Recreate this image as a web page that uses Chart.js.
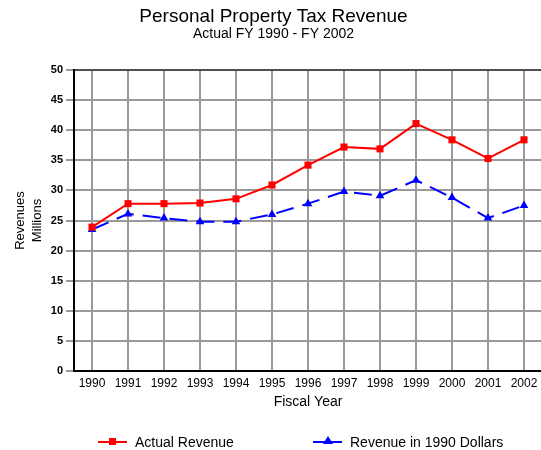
<!DOCTYPE html>
<html>
<head>
<meta charset="utf-8">
<script src="https://cdn.jsdelivr.net/npm/chart.js@4/dist/chart.umd.min.js"></script>
<style>
    body { margin: 0; overflow: hidden; background: #fff; width: 541px; height: 450px; position: relative; }
    #wrap { position: absolute; left: 0; top: 0; width: 547px; height: 450px; }
    .legend { position: absolute; top: 434px; font: 14px "Liberation Sans", Arial, sans-serif; color: #000; height: 16px; line-height: 16px; }
    .legend .line { position: absolute; top: 7px; width: 29px; height: 2px; }
    .legend .sq { position: absolute; top: 4px; left: 11px; width: 7px; height: 7px; background: #f00; }
    .legend .tri { position: absolute; top: 2px; left: 10px; width: 0; height: 0;
        border-left: 5px solid transparent; border-right: 5px solid transparent; border-bottom: 8px solid #00f; }
    .legend .txt { position: absolute; left: 37px; white-space: nowrap; }
</style>
</head>
<body>
<div id="wrap"><canvas id="taxChart" width="547" height="450"></canvas></div>

<div class="legend" style="left:98px"><div class="line" style="background:#f00"></div><div class="sq"></div><span class="txt">Actual Revenue</span></div>
<div class="legend" style="left:313px"><div class="line" style="background:#00f"></div><div class="tri"></div><span class="txt">Revenue in 1990 Dollars</span></div>

<script>
// Fiscal years and revenue in millions
const years = ['1990', '1991', '1992', '1993', '1994', '1995', '1996', '1997', '1998', '1999', '2000', '2001', '2002'];
const actualRevenue = [23.9, 27.8, 27.8, 27.9, 28.6, 30.9, 34.2, 37.2, 36.9, 41.1, 38.4, 35.3, 38.4];
const revenue1990Dollars = [23.5, 26.1, 25.4, 24.8, 24.8, 26.0, 27.8, 29.8, 29.1, 31.7, 28.8, 25.4, 27.5];
const yTicks = [0, 5, 10, 15, 20, 25, 30, 35, 40, 45, 50];

const gridGray = '#9a9a9a';

const ctx = document.getElementById('taxChart');
const taxChart = new Chart(ctx, {
    type: 'line',
    data: {
        labels: years,
        datasets: [{
            label: 'Actual Revenue',
            data: actualRevenue,
            borderColor: '#ff0000',
            backgroundColor: '#ff0000',
            borderWidth: 2,
            pointStyle: 'rect',
            pointRadius: 5,
            pointBorderWidth: 0,
            tension: 0
        }, {
            label: 'Revenue in 1990 Dollars',
            data: revenue1990Dollars,
            borderColor: '#0000ff',
            backgroundColor: '#0000ff',
            borderWidth: 2,
            borderDash: [18, 9],
            pointStyle: 'triangle',
            pointRadius: 5,
            pointBorderWidth: 0,
            tension: 0
        }]
    },
    options: {
        responsive: false,
        animation: false,
        devicePixelRatio: 1,
        layout: { padding: 0 },
        plugins: {
            legend: { display: false },
            tooltip: { enabled: false },
            title: {
                display: true,
                text: 'Personal Property Tax Revenue',
                color: '#000',
                font: { family: '"Liberation Sans", Arial, sans-serif', size: 19, weight: 'normal', lineHeight: 1 },
                padding: { top: 7.5, bottom: 0 }
            },
            subtitle: {
                display: true,
                text: 'Actual FY 1990 - FY 2002',
                color: '#000',
                font: { family: '"Liberation Sans", Arial, sans-serif', size: 14, lineHeight: 1 },
                padding: { top: 0.5, bottom: 29 }
            }
        },
        scales: {
            x: {
                offset: true,
                afterFit: s => { s.height = 79; },
                grid: { offset: false, color: gridGray, lineWidth: 2, drawTicks: false },
                border: { color: '#000', width: 2 },
                ticks: {
                    autoSkip: false,
                    maxRotation: 0,
                    padding: 5,
                    color: '#000',
                    font: { family: '"Liberation Sans", Arial, sans-serif', size: 12 }
                },
                title: {
                    display: true,
                    text: 'Fiscal Year',
                    color: '#000',
                    font: { family: '"Liberation Sans", Arial, sans-serif', size: 14, lineHeight: 1 },
                    padding: { top: 0, bottom: 41 }
                }
            },
            y: {
                min: 0,
                max: 50,
                afterFit: s => { s.width = 74; },
                afterBuildTicks: s => { s.ticks = yTicks.map(v => ({ value: v })); },
                grid: {
                    color: c => (c.tick && c.tick.value === 50) ? '#505050' : gridGray,
                    tickColor: gridGray,
                    lineWidth: 2,
                    tickLength: 8
                },
                border: { color: '#000', width: 2 },
                ticks: {
                    padding: 3,
                    color: '#000',
                    font: { family: '"Liberation Sans", Arial, sans-serif', size: 11, weight: 'bold' }
                },
                title: {
                    display: true,
                    text: ['Revenues', 'Millions'],
                    color: '#000',
                    font: { family: '"Liberation Sans", Arial, sans-serif', size: 13, lineHeight: 17 / 13 },
                    padding: { top: 11.5, bottom: 0 }
                }
            }
        }
    }
});
</script>
</body>
</html>
